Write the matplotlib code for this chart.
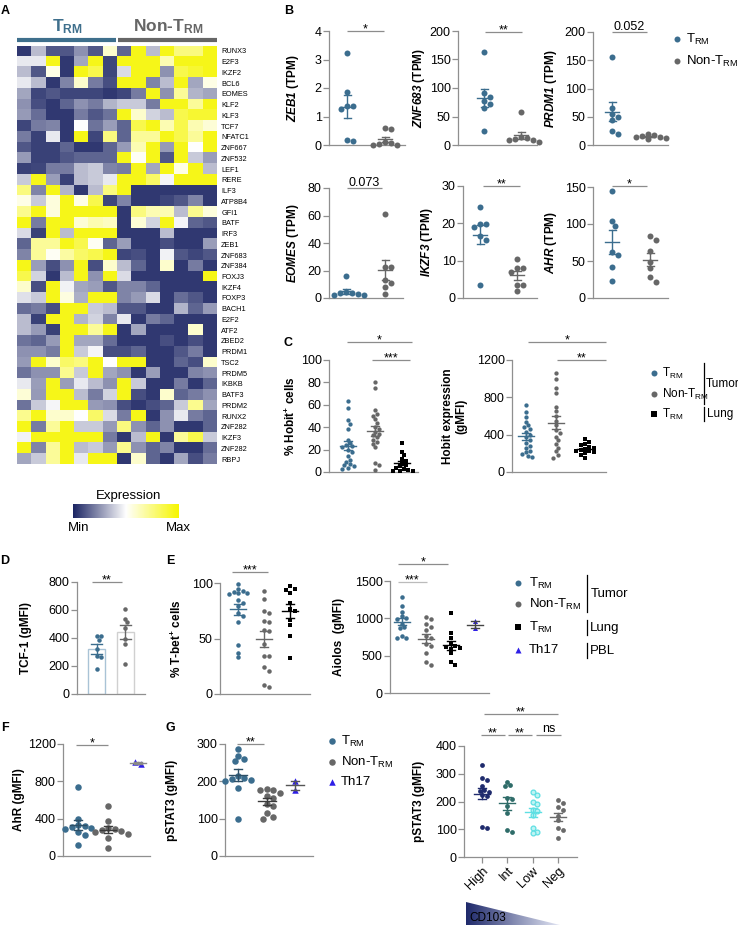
import numpy as np
import matplotlib
matplotlib.use("Agg")
import matplotlib.pyplot as plt
from matplotlib.colors import LinearSegmentedColormap
from matplotlib.patches import Polygon

plt.rcParams['font.family'] = ['Liberation Sans', 'DejaVu Sans']
plt.rcParams['mathtext.fontset'] = 'custom'
plt.rcParams['mathtext.rm'] = 'Liberation Sans'
plt.rcParams['mathtext.it'] = 'Liberation Sans:italic'
plt.rcParams['mathtext.bf'] = 'Liberation Sans:bold'
plt.rcParams['mathtext.bfit'] = 'Liberation Sans:bold:italic'

# ---------------- DATA ----------------
genes = ["RUNX3", "E2F3", "IKZF2", "BCL6", "EOMES", "KLF2", "KLF3", "TCF7", "NFATC1",
         "ZNF667", "ZNF532", "LEF1", "RERE", "ILF3", "ATP8B4", "GFI1", "BATF", "IRF3",
         "ZEB1", "ZNF683", "ZNF384", "FOXJ3", "IKZF4", "FOXP3", "BACH1", "E2F2", "ATF2",
         "ZBED2", "PRDM1", "TSC2", "PRDM5", "IKBKB", "BATF3", "PRDM2", "RUNX2", "ZNF282",
         "IKZF3", "ZNF282", "RBPJ"]
heat = np.array([
    [0.05, 0.35, 0.12, 0.12, 0.25, 0.12, 0.60, 0.15, 0.95, 0.35, 0.95, 0.75, 0.75, 0.95],
    [0.45, 0.45, 0.95, 0.05, 0.30, 0.95, 0.08, 0.95, 0.95, 0.95, 0.65, 0.95, 0.95, 0.95],
    [0.35, 0.12, 0.55, 0.05, 0.95, 0.85, 0.08, 0.42, 0.95, 0.95, 0.25, 0.85, 0.90, 0.95],
    [0.45, 0.35, 0.05, 0.22, 0.60, 0.20, 0.10, 0.95, 0.95, 0.22, 0.35, 0.95, 0.30, 0.55],
    [0.30, 0.08, 0.12, 0.08, 0.08, 0.08, 0.05, 0.08, 0.20, 0.95, 0.25, 0.70, 0.33, 0.30],
    [0.25, 0.10, 0.05, 0.15, 0.25, 0.20, 0.33, 0.38, 0.38, 0.20, 0.95, 0.95, 0.70, 0.95],
    [0.27, 0.17, 0.05, 0.05, 0.20, 0.12, 0.18, 0.95, 0.60, 0.40, 0.35, 0.85, 0.90, 0.90],
    [0.08, 0.20, 0.22, 0.05, 0.50, 0.18, 0.28, 0.15, 0.85, 0.95, 0.65, 0.85, 0.65, 0.58],
    [0.20, 0.07, 0.45, 0.05, 0.95, 0.08, 0.75, 0.15, 0.70, 0.70, 0.95, 0.85, 0.70, 0.95],
    [0.12, 0.07, 0.07, 0.15, 0.05, 0.05, 0.15, 0.27, 0.65, 0.95, 0.27, 0.95, 0.50, 0.95],
    [0.27, 0.07, 0.07, 0.12, 0.15, 0.15, 0.15, 0.95, 0.52, 0.95, 0.12, 0.95, 0.38, 0.28],
    [0.07, 0.08, 0.20, 0.20, 0.35, 0.38, 0.22, 0.20, 0.95, 0.30, 0.95, 0.55, 0.95, 0.35],
    [0.38, 0.95, 0.28, 0.07, 0.35, 0.38, 0.45, 0.95, 0.95, 0.80, 0.48, 0.95, 0.95, 0.95],
    [0.75, 0.22, 0.95, 0.33, 0.05, 0.35, 0.75, 0.95, 0.05, 0.05, 0.05, 0.05, 0.05, 0.05],
    [0.55, 0.38, 0.57, 0.95, 0.55, 0.85, 0.08, 0.22, 0.05, 0.05, 0.08, 0.12, 0.22, 0.05],
    [0.72, 0.95, 0.57, 0.95, 0.95, 0.95, 0.95, 0.05, 0.75, 0.65, 0.65, 0.35, 0.72, 0.57],
    [0.95, 0.20, 0.95, 0.95, 0.58, 0.65, 0.62, 0.05, 0.58, 0.40, 0.95, 0.48, 0.15, 0.12],
    [0.42, 0.07, 0.95, 0.35, 0.95, 0.95, 0.95, 0.05, 0.05, 0.05, 0.35, 0.05, 0.05, 0.05],
    [0.15, 0.70, 0.70, 0.95, 0.85, 0.52, 0.15, 0.28, 0.05, 0.05, 0.10, 0.05, 0.05, 0.28],
    [0.22, 0.70, 0.52, 0.68, 0.80, 0.85, 0.95, 0.08, 0.10, 0.05, 0.47, 0.12, 0.08, 0.12],
    [0.95, 0.28, 0.10, 0.25, 0.95, 0.10, 0.60, 0.35, 0.15, 0.05, 0.60, 0.05, 0.20, 0.05],
    [0.85, 0.40, 0.05, 0.35, 0.95, 0.25, 0.95, 0.42, 0.05, 0.05, 0.05, 0.05, 0.05, 0.95],
    [0.60, 0.10, 0.95, 0.47, 0.30, 0.28, 0.12, 0.22, 0.22, 0.15, 0.05, 0.05, 0.05, 0.05],
    [0.43, 0.38, 0.95, 0.56, 0.32, 0.95, 0.95, 0.22, 0.27, 0.42, 0.05, 0.17, 0.12, 0.05],
    [0.17, 0.20, 0.10, 0.95, 0.95, 0.38, 0.35, 0.12, 0.12, 0.05, 0.05, 0.33, 0.15, 0.27],
    [0.35, 0.07, 0.95, 0.95, 0.33, 0.40, 0.22, 0.45, 0.05, 0.20, 0.15, 0.05, 0.05, 0.05],
    [0.35, 0.27, 0.07, 0.95, 0.95, 0.70, 0.95, 0.05, 0.30, 0.05, 0.05, 0.05, 0.60, 0.05],
    [0.18, 0.15, 0.27, 0.95, 0.30, 0.30, 0.17, 0.05, 0.05, 0.05, 0.10, 0.05, 0.10, 0.05],
    [0.25, 0.25, 0.20, 0.95, 0.38, 0.48, 0.10, 0.10, 0.15, 0.05, 0.05, 0.12, 0.20, 0.05],
    [0.27, 0.95, 0.60, 0.80, 0.75, 0.95, 0.50, 0.95, 0.95, 0.05, 0.05, 0.15, 0.10, 0.60],
    [0.18, 0.25, 0.25, 0.72, 0.38, 0.95, 0.30, 0.25, 0.05, 0.28, 0.05, 0.05, 0.22, 0.25],
    [0.45, 0.28, 0.95, 0.28, 0.45, 0.35, 0.25, 0.95, 0.38, 0.05, 0.05, 0.20, 0.05, 0.15],
    [0.58, 0.27, 0.95, 0.95, 0.35, 0.20, 0.40, 0.95, 0.10, 0.05, 0.60, 0.15, 0.20, 0.25],
    [0.18, 0.38, 0.48, 0.95, 0.95, 0.27, 0.25, 0.10, 0.05, 0.10, 0.15, 0.38, 0.72, 0.30],
    [0.72, 0.95, 0.60, 0.60, 0.50, 0.80, 0.42, 0.20, 0.95, 0.05, 0.25, 0.45, 0.20, 0.15],
    [0.95, 0.20, 0.70, 0.95, 0.38, 0.38, 0.27, 0.75, 0.25, 0.15, 0.25, 0.05, 0.05, 0.15],
    [0.47, 0.95, 0.95, 0.95, 0.95, 0.95, 0.20, 0.05, 0.35, 0.95, 0.05, 0.70, 0.85, 0.38],
    [0.95, 0.22, 0.70, 0.95, 0.35, 0.38, 0.27, 0.72, 0.25, 0.15, 0.22, 0.05, 0.05, 0.17],
    [0.30, 0.38, 0.70, 0.95, 0.45, 0.95, 0.95, 0.05, 0.60, 0.15, 0.05, 0.30, 0.10, 0.20],
])

zeb1_trm = [3.24, 1.87, 1.37, 1.37, 1.25, 0.18, 0.15]
zeb1_non = [0.60, 0.55, 0.12, 0.08, 0.02, 0.01, 0.0]
znf683_trm = [163, 92, 85, 77, 72, 65, 25]
znf683_non = [58, 14, 12, 11, 9, 8, 5]
prdm1_trm = [155, 65, 55, 50, 45, 25, 20]
prdm1_non = [20, 18, 16, 15, 14, 12, 10]
eomes_trm = [15.8, 4.5, 4.0, 3.5, 3.0, 2.5, 2.0]
eomes_non = [61, 22.5, 22.5, 12.8, 11, 7.8, 3.2]
ikzf3_trm = [24.5, 19.8, 19.8, 19.0, 16.5, 15.6, 3.6]
ikzf3_non = [10.4, 8.0, 8.0, 6.9, 3.6, 3.6, 1.8]
ahr_tpm_trm = [145, 104, 97, 62, 58, 42, 23]
ahr_tpm_non = [84, 78, 64, 48, 40, 28, 22]

hobit_pct_trm = [63, 57, 46, 43, 38, 29, 26, 24, 23, 22, 20, 18, 14, 11, 9, 7, 6, 5, 4, 3]
hobit_pct_non = [80, 75, 55, 52, 50, 47, 44, 40, 38, 36, 34, 33, 31, 29, 27, 25, 22, 8, 6, 2]
hobit_pct_lung = [26, 18, 15, 12, 10, 8, 6, 5, 4, 3, 2, 1, 1, 0.5]
hobit_mfi_trm = [720, 640, 590, 540, 500, 480, 460, 430, 400, 370, 340, 310, 280, 260, 230, 210, 190, 170, 160]
hobit_mfi_non = [1060, 1000, 900, 850, 700, 650, 600, 550, 500, 450, 420, 380, 340, 300, 260, 220, 180, 150]
hobit_mfi_lung = [350, 320, 300, 285, 270, 260, 250, 240, 230, 220, 210, 200, 180, 150]

tcf1_trm = [414, 414, 387, 322, 274, 267, 177]
tcf1_non = [606, 537, 511, 470, 391, 358, 212]

tbet_trm = [99, 95, 93, 92, 91, 91, 90, 85, 82, 79, 73, 70, 65, 44, 37, 33]
tbet_non = [93, 86, 75, 73, 66, 65, 58, 57, 45, 34, 34, 24, 21, 8, 6]
tbet_lung = [97, 95, 94, 91, 82, 77, 75, 67, 62, 52, 32]

aiolos_trm = [1280, 1160, 1090, 1030, 1000, 990, 930, 880, 870, 760, 740, 730]
aiolos_non = [1020, 990, 920, 880, 840, 770, 740, 650, 630, 530, 410, 370]
aiolos_lung = [1070, 800, 730, 650, 630, 620, 600, 590, 530, 420, 380]
aiolos_th17 = [960, 870]

ahr_trm = [740, 400, 330, 320, 310, 300, 290, 260, 230, 120]
ahr_non = [540, 370, 300, 290, 280, 270, 260, 240, 190, 90]
ahr_th17 = [1010, 990]

pstat3_trm = [287, 269, 260, 254, 213, 209, 206, 204, 200, 182, 99]
pstat3_non = [180, 178, 176, 170, 160, 155, 140, 135, 115, 105, 100]
pstat3_th17 = [202, 177]

cd103_labels = ["High", "Int", "Low", "Neg"]
cd103_high = [332, 285, 278, 255, 240, 237, 235, 222, 220, 108, 105]
cd103_int = [272, 258, 257, 212, 210, 183, 160, 96, 90]
cd103_low = [235, 222, 200, 190, 170, 165, 152, 103, 90, 86]
cd103_neg = [204, 196, 180, 170, 148, 132, 103, 96, 68]

# ---------------- STYLE ----------------
C_TRM = '#3b6d8e'
C_NON = '#676767'
C_LUNG = '#000000'
C_TH17 = '#2e1fe6'
C_HIGH = '#1f2b6d'
C_INT = '#2f6c69'
C_LOW_E = '#5edfe3'
C_LOW_F = '#bff4f4'
C_NEG = '#6a6a6a'
C_HDR = '#3e6f8c'
AX_C = '#8f8f8f'

W, H = 738, 925
fig = plt.figure(figsize=(W / 100, H / 100), dpi=100)
fig.patch.set_facecolor('white')

ov = fig.add_axes([0, 0, 1, 1], zorder=10)
ov.set_xlim(0, W)
ov.set_ylim(H, 0)
ov.axis('off')


def rect(l, t, r, b):
    return [l / W, 1 - b / H, (r - l) / W, (b - t) / H]


def panel(l, t, r, b, gpx, ylim, yticks, ylabel, lab_x):
    ax = fig.add_axes(rect(l, t, r, b))
    n = len(gpx)
    sp = (gpx[-1] - gpx[0]) / (n - 1)
    ax.set_xlim(-(gpx[0] - l) / sp, (r - gpx[0]) / sp)
    ax.set_ylim(*ylim)
    ax.set_yticks(yticks)
    ax.set_xticks([])
    ax.spines[['top', 'right']].set_visible(False)
    for s in ('left', 'bottom'):
        ax.spines[s].set_color(AX_C)
        ax.spines[s].set_linewidth(0.9)
    ax.tick_params(axis='y', length=4, width=0.9, color=AX_C, labelsize=9.0, pad=1.2)
    ax.patch.set_visible(False)
    ax.set_ylabel(ylabel, fontsize=8.5, fontweight='bold', va='center', linespacing=1.15)
    ax.yaxis.set_label_coords((lab_x - l) / (r - l), 0.5)
    return ax


def px2dx(ax, px):
    T = ax.transData
    return px / (T.transform((1, 0))[0] - T.transform((0, 0))[0])


def swarm(ax, x0, vals, d):
    T = ax.transData
    pts = T.transform(np.column_stack([np.full(len(vals), x0), vals]))
    xc = pts[0, 0]
    ys = pts[:, 1]
    order = np.argsort(-ys)
    placed = []
    offs = np.zeros(len(vals))
    cands = [0.0]
    for k in range(1, 30):
        cands += [k * d * 0.5, -k * d * 0.5]
    for i in order:
        for c in cands:
            if all((c - px) ** 2 + (ys[i] - py) ** 2 >= (d * 0.92) ** 2 for px, py in placed):
                break
        placed.append((c, ys[i]))
        offs[i] = c
    if len(vals) == 2:
        offs = offs - offs.mean()
    return T.inverted().transform(np.column_stack([xc + offs, ys]))[:, 0]


def dots(ax, gi, vals, color, d, marker='o', half=7, cap=3.5, ecolor=None,
         fc=None, ec=None, mean=True, lw=1.0):
    vals = np.asarray(vals, float)
    xs = swarm(ax, gi, vals, d)
    s = (d * 0.72) ** 2
    if fc is None:
        ax.scatter(xs, vals, s=s, c=color, marker=marker, linewidths=0, clip_on=False, zorder=3)
    else:
        ax.scatter(xs, vals, s=s, facecolors=fc, edgecolors=ec, marker=marker,
                   linewidths=0.9, clip_on=False, zorder=3)
    m = vals.mean()
    se = vals.std(ddof=1) / np.sqrt(len(vals))
    e = ecolor or color
    hw = px2dx(ax, half)
    cw = px2dx(ax, cap)
    if mean:
        ax.plot([gi - hw, gi + hw], [m, m], color=e, lw=lw, zorder=4, clip_on=False)
    ax.plot([gi, gi], [m - se, m + se], color=e, lw=lw, zorder=4)
    ax.plot([gi - cw, gi + cw], [m + se, m + se], color=e, lw=lw, zorder=4)
    ax.plot([gi - cw, gi + cw], [m - se, m - se], color=e, lw=lw, zorder=4)
    return m


def sig(x1, x2, y, txt, color='#8c8c8c'):
    ov.plot([x1, x2], [y, y], color=color, lw=0.9, solid_capstyle='butt')
    if '*' in txt:
        ov.text((x1 + x2) / 2, y + 1.5, txt, ha='center', va='baseline', fontsize=9)
    else:
        ov.text((x1 + x2) / 2, y - 2.5, txt, ha='center', va='baseline', fontsize=9)


def leg_marker(x, y, color, marker='o', d=6):
    ov.scatter([x], [y], s=(d * 0.72) ** 2, c=color, marker=marker, linewidths=0)


def letter(x, y, t):
    ov.text(x, y, t, fontsize=9, fontweight='bold', ha='center', va='center')


# ---------------- A: heatmap ----------------
cmap_h = LinearSegmentedColormap.from_list('hm', [(0, '#1b2463'), (0.5, '#ffffff'), (1, '#f6f600')])
axh = fig.add_axes(rect(17, 45.5, 217, 464.5))
axh.imshow(heat, cmap=cmap_h, vmin=0, vmax=1, aspect='auto', interpolation='nearest')
axh.set_xticks([])
axh.set_yticks(range(len(genes)))
axh.set_yticklabels(genes, fontsize=5.3)
axh.yaxis.tick_right()
axh.tick_params(axis='y', length=0, pad=3)
for s in axh.spines.values():
    s.set_visible(False)

ov.text(67, 27, r'T$_{\mathregular{RM}}$', color=C_HDR, fontsize=12.5, fontweight='bold',
        ha='center', va='center')
ov.text(168, 27, r'Non-T$_{\mathregular{RM}}$', color='#666666', fontsize=12.5,
        fontweight='bold', ha='center', va='center')
ov.plot([17, 116], [40, 40], color=C_HDR, lw=3, solid_capstyle='butt')
ov.plot([118, 217], [40, 40], color='#666666', lw=3, solid_capstyle='butt')

axcb = fig.add_axes(rect(73, 504, 179, 518))
axcb.imshow(np.linspace(0, 1, 256)[None, :], cmap=cmap_h, aspect='auto')
axcb.set_axis_off()
ov.text(129, 496, 'Expression', fontsize=9.5, ha='center', va='center')
ov.text(79, 528, 'Min', fontsize=9.5, ha='center', va='center')
ov.text(178, 528, 'Max', fontsize=9.5, ha='center', va='center')
letter(5, 11, 'A')

# ---------------- B ----------------
letter(289, 11, 'B')
ax = panel(329, 31, 405, 145, [347, 385], (0, 4), [0, 1, 2, 3, 4], r'$\mathbfit{ZEB1}$ (TPM)', 293)
dots(ax, 0, zeb1_trm, C_TRM, 6)
dots(ax, 1, zeb1_non, C_NON, 6)
sig(347, 384, 31, '*')

ax = panel(458, 31, 537, 145, [484, 521], (0, 200), [0, 50, 100, 150, 200], r'$\mathbfit{ZNF683}$ (TPM)', 419)
dots(ax, 0, znf683_trm, C_TRM, 6)
dots(ax, 1, znf683_non, C_NON, 6)
sig(485, 522, 32, '**')

ax = panel(593, 32, 668, 145, [612, 648], (0, 200), [0, 50, 100, 150, 200], r'$\mathbfit{PRDM1}$ (TPM)', 551)
dots(ax, 0, prdm1_trm, C_TRM, 6)
dots(ax, 1, prdm1_non, C_NON, 6)
sig(612, 647, 32, '0.052')

ax = panel(329, 188, 403, 298, [346, 385], (0, 80), [0, 20, 40, 60, 80], r'$\mathbfit{EOMES}$ (TPM)', 293)
dots(ax, 0, eomes_trm, C_TRM, 6)
dots(ax, 1, eomes_non, C_NON, 6)
sig(347, 382, 188, '0.073')

ax = panel(463, 186, 537, 298, [480, 517], (0, 30), [0, 10, 20, 30], r'$\mathbfit{IKZF3}$ (TPM)', 427)
dots(ax, 0, ikzf3_trm, C_TRM, 6)
dots(ax, 1, ikzf3_non, C_NON, 6)
sig(483, 520, 186, '**')

ax = panel(593, 187, 668, 298, [612, 650], (0, 150), [0, 50, 100, 150], r'$\mathbfit{AHR}$ (TPM)', 551)
dots(ax, 0, ahr_tpm_trm, C_TRM, 6)
dots(ax, 1, ahr_tpm_non, C_NON, 6)
sig(612, 647, 186, '*')

leg_marker(677, 39, C_TRM)
ov.text(686, 39, r'T$_{\mathregular{RM}}$', fontsize=9.5, va='center')
leg_marker(677, 61, C_NON)
ov.text(686, 61, r'Non-T$_{\mathregular{RM}}$', fontsize=9.5, va='center')

# ---------------- C ----------------
letter(288, 343, 'C')
ax = panel(329, 360, 418, 472, [348, 375, 402], (0, 100), [0, 20, 40, 60, 80, 100],
           r'% Hobit$^{\mathregular{+}}$ cells', 291)
dots(ax, 0, hobit_pct_trm, C_TRM, 4.3, half=8, cap=4)
dots(ax, 1, hobit_pct_non, C_NON, 4.3, half=8, cap=4)
dots(ax, 2, hobit_pct_lung, C_LUNG, 4.3, marker='s', half=8, cap=4)
sig(347, 412, 342, '*')
sig(372, 410, 360, '***')

ax = panel(512, 360, 606, 472, [526, 556, 585], (0, 1200), [0, 400, 800, 1200],
           'Hobit expression\n(gMFI)', 455)
dots(ax, 0, hobit_mfi_trm, C_TRM, 4.3, half=8, cap=4)
dots(ax, 1, hobit_mfi_non, C_NON, 4.3, half=8, cap=4)
dots(ax, 2, hobit_mfi_lung, C_LUNG, 4.3, marker='s', half=8, cap=4)
sig(528, 606, 342, '*')
sig(557, 606, 360, '**')

FS_C = 8.5
leg_marker(654, 373, C_TRM)
ov.text(662, 373, r'T$_{\mathregular{RM}}$', fontsize=FS_C, va='center')
leg_marker(654, 394, C_NON)
ov.text(662, 394, r'Non-T$_{\mathregular{RM}}$', fontsize=FS_C, va='center')
leg_marker(654, 414, C_LUNG, marker='s', d=5.5)
ov.text(662, 414, r'T$_{\mathregular{RM}}$', fontsize=FS_C, va='center')
ov.plot([704, 704], [363, 404], color='black', lw=0.9)
ov.text(706, 384, 'Tumor', fontsize=FS_C, va='center')
ov.plot([704, 704], [407, 421], color='black', lw=0.9)
ov.text(707, 414, 'Lung', fontsize=FS_C, va='center')

# ---------------- D ----------------
letter(5, 561, 'D')
ax = panel(77, 582, 145, 694, [96.5, 125], (0, 800), [0, 200, 400, 600, 800], 'TCF-1 (gMFI)', 26)
bw = px2dx(ax, 17)
ax.bar([0, 1], [np.mean(tcf1_trm), np.mean(tcf1_non)], width=bw, color='white',
       edgecolor=['#a9c3d6', '#d0d0d0'], linewidth=1.0, zorder=1)
dots(ax, 0, tcf1_trm, C_TRM, 4.5, mean=False, cap=5.5)
dots(ax, 1, tcf1_non, C_NON, 4.5, mean=False, cap=5.5)
sig(92, 122, 582, '**')

# ---------------- E ----------------
letter(170, 561, 'E')
ax = panel(220, 583, 310, 694, [238, 265, 290], (0, 100), [0, 50, 100],
           r'% T-bet$^{\mathregular{+}}$ cells', 177)
dots(ax, 0, tbet_trm, C_TRM, 4.5, half=8, cap=4)
dots(ax, 1, tbet_non, C_NON, 4.5, half=8, cap=4)
dots(ax, 2, tbet_lung, C_LUNG, 4.5, marker='s', half=8, cap=4)
sig(232, 268, 572, '***')

ax = panel(390, 581, 489, 693, [402, 426, 449, 475], (0, 1500), [0, 500, 1000, 1500],
           'Aiolos  (gMFI)', 339)
dots(ax, 0, aiolos_trm, C_TRM, 4.5, half=8, cap=4)
dots(ax, 1, aiolos_non, C_NON, 4.5, half=8, cap=4)
dots(ax, 2, aiolos_lung, C_LUNG, 4.5, marker='s', half=8, cap=4)
dots(ax, 3, aiolos_th17, C_TH17, 5, marker='^', half=8, cap=4, ecolor='#444444')
sig(398, 448, 564, '*')
sig(398, 427, 582, '***', color='#bbbbbb')

leg_marker(518, 583, C_TRM)
ov.text(529, 583, r'T$_{\mathregular{RM}}$', fontsize=9.5, va='center')
leg_marker(518, 604, C_NON)
ov.text(529, 604, r'Non-T$_{\mathregular{RM}}$', fontsize=9.5, va='center')
leg_marker(518, 627, C_LUNG, marker='s', d=5.5)
ov.text(529, 627, r'T$_{\mathregular{RM}}$', fontsize=9.5, va='center')
leg_marker(518, 650, C_TH17, marker='^', d=6)
ov.text(529, 650, 'Th17', fontsize=9.5, va='center')
ov.plot([587, 587], [575, 612], color='black', lw=0.9)
ov.text(591, 594, 'Tumor', fontsize=9.5, va='center')
ov.plot([587, 587], [620, 635], color='black', lw=0.9)
ov.text(590, 628, 'Lung', fontsize=9.5, va='center')
ov.plot([587, 587], [643, 658], color='black', lw=0.9)
ov.text(590, 651, 'PBL', fontsize=9.5, va='center')

# ---------------- F ----------------
letter(5, 728, 'F')
ax = panel(63, 744, 150, 856, [78, 106, 138], (0, 1200), [0, 400, 800, 1200], 'AhR (gMFI)', 19)
dots(ax, 0, ahr_trm, C_TRM, 6.5, half=8, cap=4, ecolor='#2d4f66')
dots(ax, 1, ahr_non, C_NON, 6.5, half=8, cap=4, ecolor='#3a3a3a')
dots(ax, 2, ahr_th17, C_TH17, 6.5, marker='^', half=8, cap=4, ecolor='#888888')
sig(76, 108, 745, '*')

# ---------------- G ----------------
letter(170, 728, 'G')
ax = panel(225, 744, 313, 856, [238, 265, 295], (0, 300), [0, 100, 200, 300], 'pSTAT3 (gMFI)', 172)
dots(ax, 0, pstat3_trm, C_TRM, 6.5, half=9, cap=4, ecolor='#2d4f66')
dots(ax, 1, pstat3_non, C_NON, 6.5, half=9, cap=4, ecolor='#3a3a3a')
dots(ax, 2, pstat3_th17, C_TH17, 6.5, marker='^', half=9, cap=4, ecolor='#555555')
sig(237, 264, 744, '**')

leg_marker(332, 741, C_TRM, d=6.5)
ov.text(341, 741, r'T$_{\mathregular{RM}}$', fontsize=9.5, va='center')
leg_marker(332, 762, C_NON, d=6.5)
ov.text(341, 762, r'Non-T$_{\mathregular{RM}}$', fontsize=9.5, va='center')
leg_marker(332, 782, C_TH17, marker='^', d=6.5)
ov.text(341, 782, 'Th17', fontsize=9.5, va='center')

ax = panel(464, 746, 577, 857, [482, 507, 532, 558], (0, 400), [0, 100, 200, 300, 400],
           'pSTAT3 (gMFI)', 419)
dots(ax, 0, cd103_high, C_HIGH, 4.8, half=8, cap=4)
dots(ax, 1, cd103_int, C_INT, 4.8, half=8, cap=4)
dots(ax, 2, cd103_low, C_LOW_E, 4.8, half=8, cap=4, fc=C_LOW_F, ec=C_LOW_E)
dots(ax, 3, cd103_neg, C_NEG, 4.8, half=8, cap=4)
ax.set_xticks(range(4))
ax.set_xticklabels(cd103_labels)
ax.tick_params(axis='x', length=4, width=0.9, color=AX_C, labelsize=9.3, pad=1.5)
for tl in ax.get_xticklabels():
    tl.set_rotation(45)
    tl.set_ha('right')
    tl.set_va('top')
    tl.set_rotation_mode('anchor')
sig(484, 558, 714, '**')
sig(481, 505, 735, '**')
sig(508, 532, 735, '**')
sig(536, 561, 735, 'ns')

# CD103 gradient triangle
cmap_cd = LinearSegmentedColormap.from_list('cd', ['#1f2a6b', '#e3e6f4'])
im = ov.imshow(np.linspace(0, 1, 256)[None, :], cmap=cmap_cd, aspect='auto',
               extent=(466, 560, 925, 902))
tri = Polygon([(466, 902), (466, 925), (560, 925)], closed=True, transform=ov.transData)
im.set_clip_path(tri)
ov.set_xlim(0, W)
ov.set_ylim(H, 0)
ov.text(469, 918, 'CD103', fontsize=8.5, va='center', ha='left')

fig.savefig('out.png', dpi=100, facecolor='white')
